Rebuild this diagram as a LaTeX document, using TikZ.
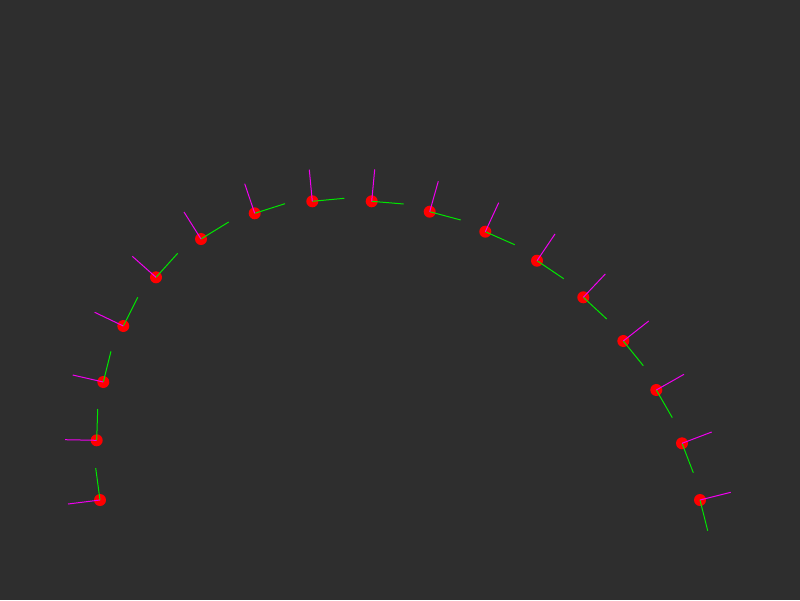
\documentclass[tikz,border=0pt]{standalone}
\usepackage{xcolor}
\usepackage{tikz}
\definecolor{bggray}{HTML}{2E2E2E}
\definecolor{axisgreen}{HTML}{00E600}
\definecolor{axismagenta}{HTML}{F000F0}
\tikzset{
  posedot/.style={circle, fill=red, inner sep=0pt, minimum size=12pt},
  greenaxis/.style={draw=axisgreen, line width=1pt},
  magentaaxis/.style={draw=axismagenta, line width=1pt}
}

\begin{document}
\begin{tikzpicture}[x=1pt,y=-1pt]
  \fill[bggray] (0,0) rectangle (800,600);
  % poses along the arc: dot, green end, magenta end
  \foreach \n/\px/\py/\gx/\gy/\mx/\my in {
      1/100/500/95.7/468/68/504,
      2/96.7/440.3/97.7/409/65/439.7,
      3/103.3/382/111/351.3/72.7/375,
      4/123.3/326/137.7/297.3/94.7/312.3,
      5/156/277.3/177.7/253.3/132.3/256.3,
      6/201/239/228.7/222/184/212,
      7/254.7/213.3/285/203.7/244.7/183.7,
      8/312.3/201.3/344.3/198.3/309.3/169.7,
      9/371.7/201.3/403.7/204/374.7/169.3,
      10/429.7/211.7/460.7/220/438.3/181.3,
      11/485.3/231.7/514.7/244.7/498.7/202.7,
      12/537/260.7/563.7/278.7/555/234,
      13/583.3/297.3/606.7/319/605.3/274,
      14/623.3/341/643.3/365.7/648.7/321,
      15/656.3/390/672.3/417.7/684/374.3,
      16/682/443.3/693.3/472.7/711.7/432,
      17/700/500/707.7/530.7/730.7/492.3} {
    \node[posedot] (p\n) at (\px,\py) {};
    \coordinate (g\n) at (\gx,\gy);
    \coordinate (m\n) at (\mx,\my);
    \draw[greenaxis] (p\n.center) -- (g\n);
    \draw[magentaaxis] (p\n.center) -- (m\n);
  }
\end{tikzpicture}
\end{document}
